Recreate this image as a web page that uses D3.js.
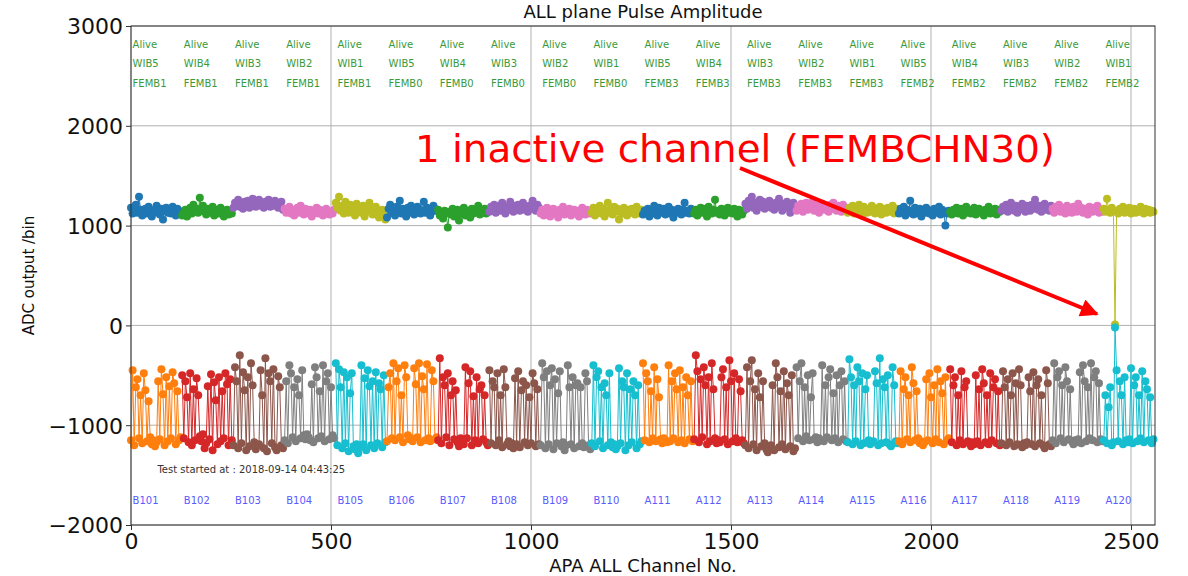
<!DOCTYPE html>
<html>
<head>
<meta charset="utf-8">
<script src="https://cdn.jsdelivr.net/npm/d3@7"></script>
<style>
  body { margin: 0; background: #fff; }
  text { font-family: "DejaVu Sans", sans-serif; }
</style>
</head>
<body>
<div id="chart"></div>
<script>
// ---- data: 20 FEMBs x 32 sampled channels (every 4th channel) ----
var chPerFemb = 128;
var chStep = 4;

var statusLabels = ["Alive","Alive","Alive","Alive","Alive","Alive","Alive","Alive","Alive","Alive",
                    "Alive","Alive","Alive","Alive","Alive","Alive","Alive","Alive","Alive","Alive"];
var wibLabels = ["WIB5","WIB4","WIB3","WIB2","WIB1","WIB5","WIB4","WIB3","WIB2","WIB1",
                 "WIB5","WIB4","WIB3","WIB2","WIB1","WIB5","WIB4","WIB3","WIB2","WIB1"];
var fembLabels = ["FEMB1","FEMB1","FEMB1","FEMB1","FEMB1","FEMB0","FEMB0","FEMB0","FEMB0","FEMB0",
                  "FEMB3","FEMB3","FEMB3","FEMB3","FEMB3","FEMB2","FEMB2","FEMB2","FEMB2","FEMB2"];
var apaLabels = ["B101","B102","B103","B104","B105","B106","B107","B108","B109","B110",
                 "A111","A112","A113","A114","A115","A116","A117","A118","A119","A120"];

var xTicks = [0, 500, 1000, 1500, 2000, 2500];
var yTicks = [-2000, -1000, 0, 1000, 2000, 3000];

// positive pulse amplitude, one row per FEMB
var posAmp = [
  [1180,1120,1150,1210,1130,1290,1160,1100,1140,1170,1120,1190,1150,1090,1130,1160,1200,1140,1110,1170,1060,1150,1180,1130,1160,1120,1190,1140,1100,1170,1150,1130],
  [1100,1130,1160,1090,1140,1180,1120,1210,1150,1170,1130,1280,1160,1200,1140,1110,1170,1150,1130,1190,1100,1160,1140,1120,1180,1150,1090,1130,1160,1110,1140,1120],
  [1180,1230,1210,1260,1190,1220,1170,1240,1200,1250,1180,1220,1270,1210,1190,1230,1260,1200,1220,1180,1240,1210,1260,1190,1230,1200,1250,1220,1180,1210,1240,1160],
  [1170,1130,1150,1190,1120,1160,1100,1140,1180,1130,1200,1150,1110,1170,1140,1120,1160,1090,1130,1150,1180,1120,1160,1140,1100,1130,1170,1150,1110,1140,1120,1160],
  [1230,1180,1290,1150,1200,1120,1240,1170,1130,1210,1160,1190,1100,1220,1150,1180,1130,1200,1090,1160,1140,1230,1170,1110,1150,1190,1120,1080,1140,1160,1100,1060],
  [1080,1170,1210,1130,1160,1100,1190,1140,1250,1120,1170,1150,1090,1180,1130,1200,1160,1110,1140,1190,1170,1120,1150,1240,1130,1180,1160,1100,1140,1200,1170,1150],
  [1160,1100,1130,1070,1150,1120,980,1140,1110,1170,1090,1130,1160,1050,1120,1140,1180,1100,1150,1130,1080,1170,1120,1160,1140,1200,1110,1150,1130,1170,1120,1140],
  [1140,1190,1160,1210,1130,1180,1200,1150,1230,1170,1120,1190,1160,1240,1180,1140,1200,1170,1210,1150,1190,1230,1160,1180,1140,1200,1170,1250,1190,1150,1210,1180],
  [1120,1160,1100,1140,1180,1130,1090,1150,1170,1120,1140,1080,1160,1130,1190,1110,1150,1140,1170,1100,1130,1160,1120,1150,1090,1140,1180,1130,1110,1160,1140,1120],
  [1130,1180,1100,1160,1140,1200,1120,1170,1090,1150,1230,1130,1160,1110,1190,1140,1170,1060,1150,1120,1180,1140,1100,1160,1130,1170,1150,1110,1190,1140,1120,1160],
  [1110,1150,1130,1170,1090,1160,1120,1200,1140,1100,1180,1130,1150,1170,1110,1140,1190,1120,1160,1080,1150,1130,1170,1140,1110,1160,1230,1130,1150,1120,1170,1140],
  [1120,1160,1100,1140,1180,1130,1170,1150,1090,1190,1140,1120,1160,1260,1130,1150,1110,1170,1140,1100,1160,1180,1130,1150,1120,1170,1140,1090,1160,1130,1110,1150],
  [1220,1170,1250,1200,1290,1180,1230,1150,1210,1260,1190,1240,1170,1220,1200,1250,1180,1210,1160,1230,1190,1270,1200,1150,1220,1180,1240,1210,1130,1190,1230,1200],
  [1150,1200,1170,1220,1140,1190,1230,1160,1210,1180,1240,1150,1200,1170,1130,1190,1220,1160,1200,1180,1140,1210,1170,1230,1190,1150,1200,1170,1140,1210,1180,1160],
  [1130,1180,1150,1200,1120,1170,1140,1210,1160,1100,1190,1150,1130,1170,1140,1200,1180,1120,1160,1140,1190,1110,1170,1150,1130,1180,1160,1140,1200,1120,1150,1170],
  [1120,1170,1140,1190,1100,1160,1130,1250,1150,1110,1180,1140,1120,1170,1090,1150,1130,1180,1160,1120,1140,1100,1170,1150,1130,1190,1110,1160,1140,1000,1120,1150],
  [1140,1110,1160,1130,1180,1120,1150,1170,1100,1140,1190,1130,1160,1120,1150,1180,1110,1140,1170,1130,1150,1100,1160,1140,1190,1120,1150,1130,1170,1110,1160,1140],
  [1150,1190,1160,1210,1140,1180,1230,1170,1150,1200,1130,1190,1170,1220,1160,1140,1200,1180,1150,1210,1170,1260,1190,1160,1200,1140,1180,1220,1160,1190,1150,1200],
  [1170,1130,1190,1150,1210,1140,1180,1160,1120,1200,1150,1170,1130,1190,1160,1140,1220,1150,1180,1130,1170,1150,1110,1190,1160,1140,1180,1150,1200,1130,1160,1140],
  [1170,1140,1270,1160,1130,1180,1150,10,1140,1120,1170,1150,1190,1130,1160,1140,1180,1120,1150,1170,1130,1160,1140,1190,1150,1120,1170,1140,1160,1130,1150,1140]
];

// negative pulse amplitude, one row per FEMB
var negAmp = [
  [-1150,-450,-1200,-620,-540,-1130,-700,-1180,-480,-650,-1160,-760,-1120,-1190,-1150,-1210,-1170,-560,-1140,-440,-690,-1200,-520,-1160,-610,-1130,-470,-580,-1190,-660,-1150,-1120],
  [-500,-1130,-560,-720,-1170,-480,-1200,-640,-1150,-530,-700,-1110,-1160,-1090,-1230,-1180,-610,-1140,-490,-1250,-570,-750,-1190,-520,-1160,-660,-1130,-480,-590,-1200,-540,-1150],
  [-1200,-420,-560,-1230,-300,-1180,-470,-650,-1250,-520,-1210,-380,-600,-1170,-1240,-1200,-1190,-450,-700,-1230,-330,-1260,-480,-560,-1180,-440,-1220,-1250,-510,-620,-1200,-1230],
  [-1150,-560,-1180,-400,-480,-1120,-620,-1160,-540,-700,-1130,-450,-1100,-1140,-1090,-1120,-1150,-590,-1170,-420,-520,-1130,-660,-1110,-400,-1160,-560,-480,-1140,-620,-1100,-1130],
  [-380,-1200,-440,-620,-1230,-470,-1180,-520,-1260,-680,-480,-1210,-1240,-1190,-1280,-1220,-400,-1190,-530,-1250,-450,-610,-1200,-560,-1230,-470,-1180,-580,-640,-1220,-500,-1170],
  [-1160,-620,-480,-1130,-380,-1150,-560,-430,-1120,-700,-1170,-400,-520,-1100,-1140,-1130,-1160,-430,-590,-1120,-380,-1170,-510,-640,-1150,-390,-1130,-1160,-450,-560,-1140,-1120],
  [-1150,-330,-1180,-520,-600,-1120,-480,-1200,-700,-560,-1140,-650,-1170,-1210,-1130,-1160,-1190,-420,-1130,-580,-460,-1200,-710,-1150,-520,-1180,-640,-600,-1140,-700,-1170,-1200],
  [-450,-1180,-560,-620,-1200,-480,-1150,-700,-1220,-440,-620,-1190,-1160,-1210,-1180,-1230,-530,-1190,-460,-1220,-650,-560,-1170,-600,-1200,-720,-1180,-480,-580,-1210,-640,-1190],
  [-1200,-380,-520,-1230,-460,-1190,-600,-430,-1240,-540,-1180,-680,-460,-1210,-1170,-1250,-1200,-400,-620,-1190,-520,-1230,-600,-580,-1210,-620,-1180,-1220,-480,-560,-1200,-1240],
  [-1180,-400,-1210,-520,-460,-1160,-620,-1230,-580,-700,-1200,-480,-1170,-1220,-1190,-1240,-1210,-430,-1180,-560,-620,-1250,-480,-1200,-640,-1170,-560,-700,-1230,-600,-1190,-1160],
  [-380,-1150,-480,-560,-1170,-660,-1130,-420,-1160,-540,-720,-1140,-1180,-1130,-1150,-1170,-400,-1160,-560,-1130,-480,-640,-1170,-450,-1150,-620,-1180,-520,-700,-1140,-560,-1160],
  [-1140,-300,-460,-1170,-540,-1120,-420,-600,-1190,-520,-1160,-380,-640,-1130,-1180,-1150,-1170,-520,-440,-1140,-620,-1190,-350,-560,-1160,-480,-1130,-1170,-540,-660,-1150,-1180],
  [-1200,-420,-1230,-560,-350,-1190,-640,-1250,-480,-720,-1210,-560,-1180,-1240,-1270,-1220,-1200,-600,-1250,-380,-520,-1220,-660,-1190,-460,-1240,-580,-700,-1210,-500,-1260,-1230],
  [-420,-1130,-560,-380,-1160,-620,-1110,-500,-1150,-720,-480,-1140,-1120,-1170,-1130,-1150,-400,-1160,-600,-1120,-520,-440,-1150,-680,-1130,-500,-1170,-600,-460,-1140,-560,-1160],
  [-1170,-340,-520,-1190,-600,-1160,-420,-560,-1200,-480,-1180,-640,-500,-1150,-1190,-1170,-1160,-460,-580,-1200,-330,-1180,-540,-620,-1170,-500,-1190,-1210,-420,-600,-1160,-1180],
  [-1160,-460,-1190,-640,-520,-1140,-700,-1170,-420,-580,-1150,-660,-1130,-1180,-1160,-1200,-1170,-540,-1150,-480,-720,-1180,-600,-1140,-440,-1170,-560,-680,-1190,-520,-1150,-1130],
  [-440,-1170,-600,-520,-1200,-700,-1150,-460,-1190,-620,-560,-1160,-1180,-1210,-1170,-1190,-500,-1160,-640,-1200,-440,-580,-1170,-700,-1190,-480,-1150,-620,-540,-1180,-660,-1200],
  [-1180,-460,-620,-1200,-540,-1170,-700,-480,-1210,-580,-1190,-440,-600,-1220,-1180,-1200,-1170,-520,-660,-1190,-470,-1210,-600,-540,-1180,-700,-1200,-1230,-450,-580,-1190,-1210],
  [-1150,-380,-1180,-520,-460,-1130,-600,-1170,-420,-560,-1140,-640,-1160,-1190,-1150,-1170,-1140,-470,-1180,-400,-560,-1160,-620,-1130,-380,-1150,-520,-460,-1170,-580,-1140,-1160],
  [-1150,-700,-1180,-820,-620,-1200,-1170,-20,-450,-1160,-560,-700,-1190,-520,-1150,-1170,-1140,-430,-1180,-600,-520,-1160,-700,-1130,-460,-1170,-560,-640,-1150,-720,-1180,-1140]
];

var posColors = ["#1f77b4","#2ca02c","#9467bd","#e377c2","#bcbd22"];
var negColors = ["#ff7f0e","#d62728","#8c564b","#7f7f7f","#17becf"];

// ---- layout ----
var svgWidth = 1188;
var svgHeight = 576;
var margin = { top: 26, right: 33, bottom: 51, left: 131 };
var width = svgWidth - margin.left - margin.right;
var height = svgHeight - margin.top - margin.bottom;

var svg = d3.select("#chart")
  .append("svg")
  .attr("width", svgWidth)
  .attr("height", svgHeight);

var chartGroup = svg.append("g")
  .attr("transform", `translate(${margin.left}, ${margin.top})`);

var xScale = d3.scaleLinear().domain([0, 2560]).range([0, width]);
var yScale = d3.scaleLinear().domain([-2000, 3000]).range([height, 0]);

// grid
chartGroup.append("g").selectAll("line")
  .data(xTicks).enter().append("line")
  .attr("x1", d => xScale(d)).attr("x2", d => xScale(d))
  .attr("y1", 0).attr("y2", height)
  .attr("stroke", "#b0b0b0").attr("stroke-width", 1);

chartGroup.append("g").selectAll("line")
  .data(yTicks).enter().append("line")
  .attr("x1", 0).attr("x2", width)
  .attr("y1", d => yScale(d)).attr("y2", d => yScale(d))
  .attr("stroke", "#b0b0b0").attr("stroke-width", 1);

// series, one line per FEMB
function toPoints(row, femb) {
  return row.map((v, i) => ({ ch: femb * chPerFemb + i * chStep, v: v }));
}

var line = d3.line().x(d => xScale(d.ch)).y(d => yScale(d.v));

function drawSeries(rows, colors) {
  rows.forEach(function(row, k) {
    var pts = toPoints(row, k);
    var col = colors[k % colors.length];
    var g = chartGroup.append("g");
    g.append("path")
      .datum(pts)
      .attr("d", line)
      .attr("fill", "none")
      .attr("stroke", col)
      .attr("stroke-width", 1);
    g.selectAll("circle")
      .data(pts).enter().append("circle")
      .attr("cx", d => xScale(d.ch))
      .attr("cy", d => yScale(d.v))
      .attr("r", 4)
      .attr("fill", col);
  });
}
drawSeries(posAmp, posColors);
drawSeries(negAmp, negColors);

// status text per FEMB
var fembText = chartGroup.append("g").attr("font-size", "10px");
[[statusLabels, 2780], [wibLabels, 2590], [fembLabels, 2390]].forEach(function(pair) {
  fembText.selectAll(null)
    .data(pair[0]).enter().append("text")
    .attr("x", (d, i) => xScale(i * chPerFemb + 4))
    .attr("y", yScale(pair[1]))
    .attr("fill", "#3a9a3a")
    .text(d => d);
});

chartGroup.append("g").attr("font-size", "10px")
  .selectAll("text")
  .data(apaLabels).enter().append("text")
  .attr("x", (d, i) => xScale(i * chPerFemb + 4))
  .attr("y", yScale(-1790))
  .attr("fill", "#5a5aff")
  .text(d => d);

chartGroup.append("text")
  .attr("x", xScale(66))
  .attr("y", yScale(-1475))
  .attr("font-size", "10px")
  .attr("fill", "#333")
  .text("Test started at  : 2018-09-14 04:43:25");

// axes
var bottomAxis = d3.axisBottom(xScale).tickValues(xTicks).tickSize(5).tickPadding(3).tickFormat(d3.format("d"));
var leftAxis = d3.axisLeft(yScale).tickValues(yTicks).tickSize(5).tickPadding(3).tickFormat(d3.format("d"));

var xAxisG = chartGroup.append("g")
  .attr("transform", `translate(0, ${height})`)
  .call(bottomAxis);
var yAxisG = chartGroup.append("g").call(leftAxis);

[xAxisG, yAxisG].forEach(function(g) {
  g.select(".domain").remove();
  g.selectAll("line").attr("stroke", "#333");
  g.selectAll("text")
    .attr("font-family", "DejaVu Sans, sans-serif")
    .attr("font-size", "22px")
    .attr("fill", "#111");
});
yAxisG.selectAll("text").attr("dy", "0.36em");

// frame
chartGroup.append("rect")
  .attr("width", width).attr("height", height)
  .attr("fill", "none")
  .attr("stroke", "#333")
  .attr("stroke-width", 1);

// titles
chartGroup.append("text")
  .attr("x", width / 2).attr("y", -8)
  .attr("text-anchor", "middle")
  .attr("font-size", "18px")
  .attr("fill", "#111")
  .text("ALL plane Pulse Amplitude");

chartGroup.append("text")
  .attr("x", width / 2).attr("y", height + 47)
  .attr("text-anchor", "middle")
  .attr("font-size", "18px")
  .attr("fill", "#111")
  .text("APA ALL Channel No.");

chartGroup.append("text")
  .attr("transform", "rotate(-90)")
  .attr("x", -(yScale(500)))
  .attr("y", -97)
  .attr("text-anchor", "middle")
  .attr("font-size", "15px")
  .attr("fill", "#111")
  .text("ADC output /bin");

// annotation
var ann = svg.append("g");
ann.append("text")
  .attr("x", 415).attr("y", 162)
  .attr("font-family", "Liberation Sans, Arial, sans-serif")
  .attr("font-size", "37px")
  .attr("fill", "#ff0000")
  .attr("textLength", 640)
  .attr("lengthAdjust", "spacingAndGlyphs")
  .text("1 inactive channel (FEMBCHN30)");

svg.append("defs").append("marker")
  .attr("id", "arrowHead")
  .attr("viewBox", "0 0 10 10")
  .attr("refX", 9).attr("refY", 5)
  .attr("markerWidth", 5).attr("markerHeight", 4.5)
  .attr("markerUnits", "strokeWidth")
  .attr("orient", "auto")
  .append("path")
  .attr("d", "M0,0 L10,5 L0,10 z")
  .attr("fill", "#ff0000");

ann.append("line")
  .attr("x1", 740).attr("y1", 168)
  .attr("x2", 1097).attr("y2", 314)
  .attr("stroke", "#ff0000")
  .attr("stroke-width", 4)
  .attr("marker-end", "url(#arrowHead)");
</script>
</body>
</html>
